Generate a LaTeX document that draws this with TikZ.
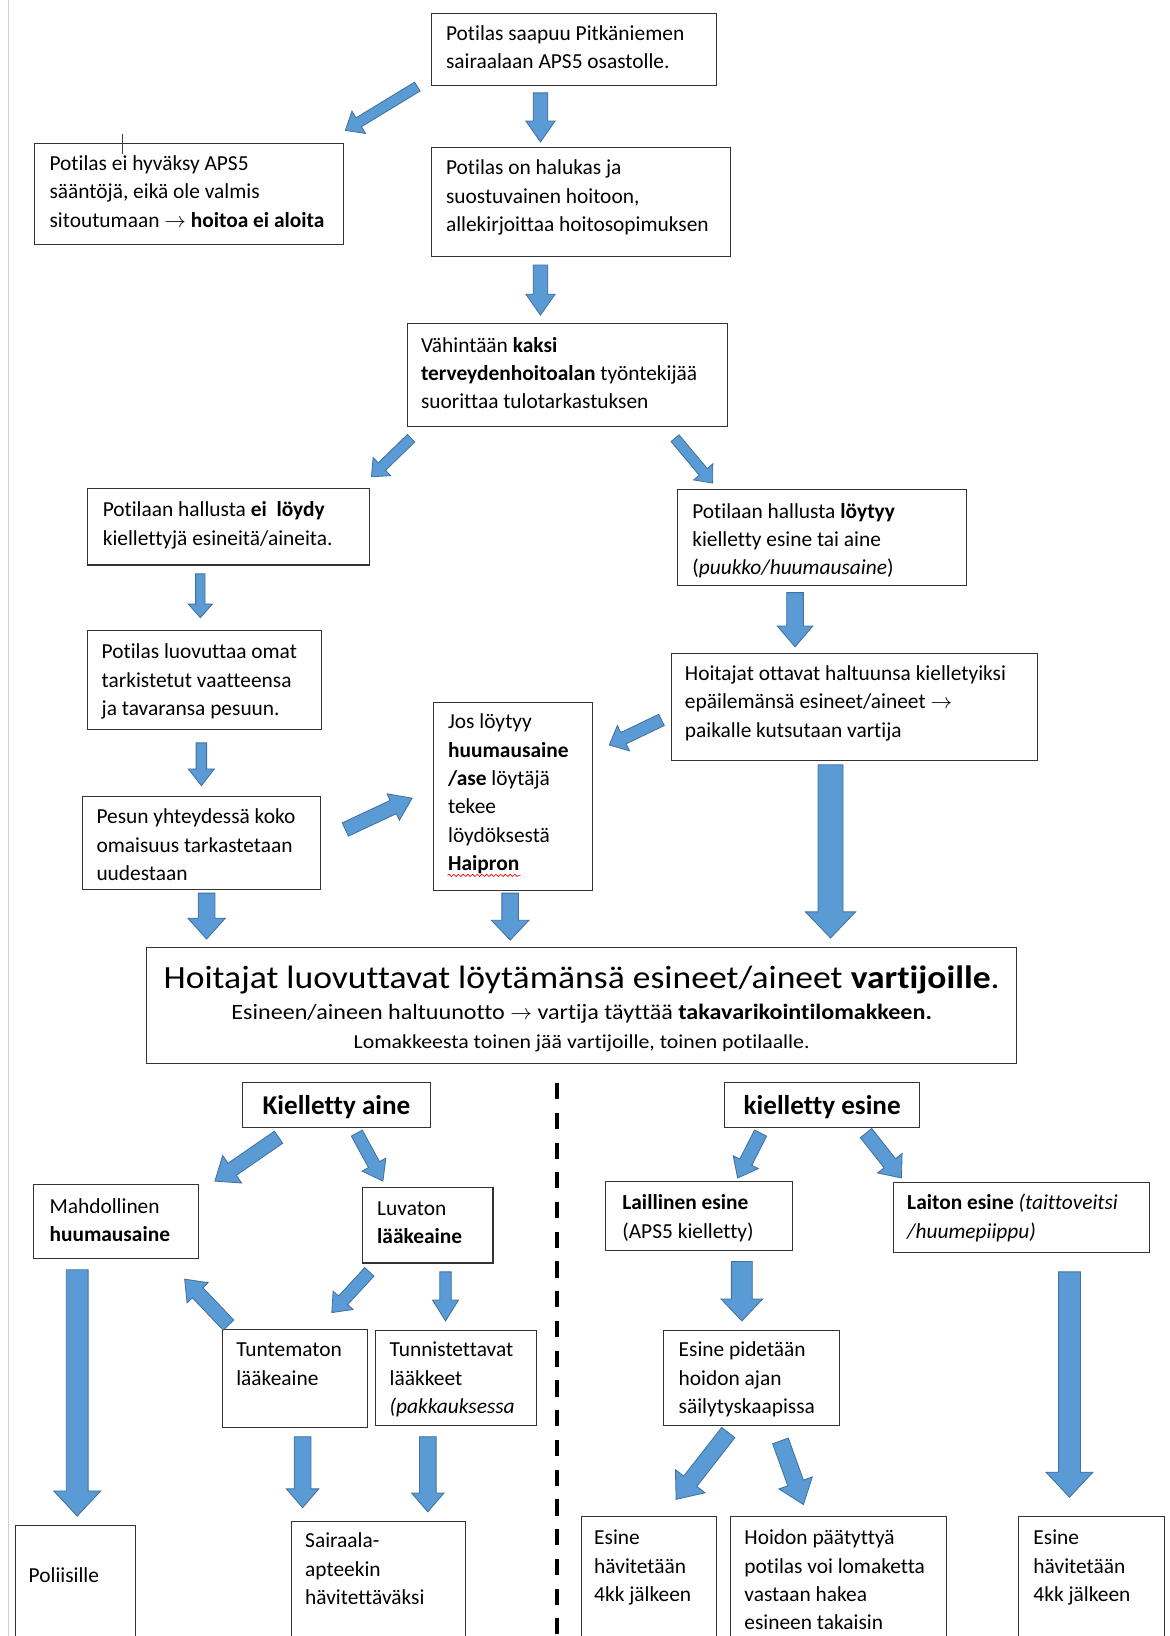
\documentclass[tikz,border=0pt]{standalone}
\usepackage{fontspec}
\setmainfont{Carlito}[Ligatures=NoCommon]
\newfontfamily\kfont{Carlito}[Ligatures=NoCommon, FakeStretch=1.1]
\usetikzlibrary{calc,decorations.pathmorphing}
\definecolor{arrfill}{HTML}{5B9BD5}
\definecolor{arrline}{HTML}{41719C}
\newcommand\ar{\ensuremath{\rightarrow}}
\tikzset{
  box/.style={draw=black!80, line width=1pt, fill=white, inner sep=0pt, anchor=north west,
              font=\fontsize{20.5}{27.2}\selectfont},
  barr/.style={fill=arrfill, draw=arrline, line width=0.8pt, line join=miter},
}
% left-aligned box: name, x1, y1, x2, y2, first-baseline offset, left pad, text
\newcommand\bx[8]{%
  \node[box] (#1) at (#2,#3) {\vbox to \dimexpr#5pt-#3pt\relax{\vskip\dimexpr#6pt-19.04pt\relax
    \hbox to \dimexpr#4pt-#2pt\relax{\hspace{#7pt}\begin{tabular}{@{}l@{}}#8\end{tabular}\hfil}\vfil}};}
% centred box
\newcommand\bxc[7]{%
  \node[box] (#1) at (#2,#3) {\vbox to \dimexpr#5pt-#3pt\relax{\vskip\dimexpr#6pt-19.04pt\relax
    \hbox to \dimexpr#4pt-#2pt\relax{\hfil\begin{tabular}{@{}c@{}}#7\end{tabular}\hfil}\vfil}};}
% block arrow: start, end, shaft width, head width, head length
\newcommand\barrow[5]{%
  \path[barr] let \p1=(#1), \p2=(#2), \n1={atan2(\y2-\y1,\x2-\x1)}, \n2={veclen(\x2-\x1,\y2-\y1)} in
    (\p1) -- ++({\n1+90}:{#3pt/2}) -- ++(\n1:{\n2*1pt-#5pt}) -- ++({\n1+90}:{#4pt/2-#3pt/2})
    -- (\p2) -- ++({\n1+180+atan2(#4,2*#5)}:{veclen(#4/2,#5)*1pt})
    -- ++({\n1+90}:{#4pt/2-#3pt/2}) -- ++({\n1+180}:{\n2*1pt-#5pt}) -- cycle;}
\begin{document}
\begin{tikzpicture}[x=1pt,y=-1pt]
\useasboundingbox (0,0) rectangle (1121,1568);
\clip (0,0) rectangle (1121,1568);
\fill[white] (0,0) rectangle (1121,1568);
% page edge
\coordinate (pe1) at (8,0); \coordinate (pe2) at (8,1568);
\draw[black!18, line width=1pt] (pe1) -- (pe2);

% boxes
\bx{A}{413}{12}{686}{81}{26}{14}{Potilas saapuu Pitkäniemen\\sairaalaan APS5 osastolle.}
\bx{B}{33}{137}{329}{234}{26}{14}{Potilas ei hyväksy APS5\\sääntöjä, eikä ole valmis\\sitoutumaan \ar{} \textbf{hoitoa ei aloita}}
\bx{C}{413}{141}{700}{245}{26}{14}{Potilas on halukas ja\\suostuvainen hoitoon,\\allekirjoittaa hoitosopimuksen}
\bx{D}{390}{310}{697}{408}{27}{13}{Vähintään \textbf{kaksi}\\\textbf{terveydenhoitoalan} työntekijää\\suorittaa tulotarkastuksen}
\bx{E}{83}{468}{354}{541}{27}{15}{Potilaan hallusta \textbf{ei\ \ löydy}\\kiellettyjä esineitä/aineita.}
\bx{F}{649}{469}{926}{561}{27}{14}{Potilaan hallusta \textbf{löytyy}\\kielletty esine tai aine\\(\textit{puukko/huumausaine})}
\bx{G}{83}{604}{308}{699}{27}{14}{Potilas luovuttaa omat\\tarkistetut vaatteensa\\ja tavaransa pesuun.}
\bx{H}{643}{626}{994}{728}{25.5}{13}{Hoitajat ottavat haltuunsa kielletyiksi\\epäilemänsä esineet/aineet \ar\\paikalle kutsutaan vartija}
\bx{I}{415}{673}{567}{853}{25}{14}{Jos löytyy\\\textbf{huumausaine}\\\textbf{/ase} löytäjä\\tekee\\löydöksestä\\\textbf{Haipron}}
\bx{J}{79}{763}{307}{852}{26}{13}{Pesun yhteydessä koko\\omaisuus tarkastetaan\\uudestaan}
\node[box] (K) at (140,908) {\vbox to 111pt{\offinterlineskip
  \hbox to 834pt{\hfil\rule[-9pt]{0pt}{47.6pt}\kfont\fontsize{31}{36}\selectfont Hoitajat luovuttavat löytämänsä esineet/aineet \textbf{vartijoille}.\hfil}
  \hbox to 834pt{\hfil\rule[-6pt]{0pt}{27.4pt}\kfont\fontsize{21}{25}\selectfont Esineen/aineen haltuunotto \ar{} vartija täyttää \textbf{takavarikointilomakkeen.}\hfil}
  \hbox to 834pt{\hfil\rule{0pt}{21pt}\kfont\fontsize{19}{22}\selectfont Lomakkeesta toinen jää vartijoille, toinen potilaalle.\hfil}
  \vfil}};
\bxc{L}{232}{1037}{412}{1080}{31}{\fontsize{26}{27.2}\selectfont\bfseries Kielletty aine}
\bxc{M}{694}{1037}{881}{1080}{31}{\fontsize{26}{27.2}\selectfont\bfseries kielletty esine}
\bx{N}{32}{1135}{190}{1206}{27.5}{15}{Mahdollinen\\\textbf{huumausaine}}
\bx{O}{347}{1138}{472}{1210}{26}{14}{Luvaton\\\textbf{lääkeaine}}
\bx{P}{580}{1132}{759}{1198}{27}{16}{\textbf{Laillinen esine}\\(APS5 kielletty)}
\bx{Q}{856}{1133}{1101}{1200}{26}{13}{\textbf{Laiton esine} \textit{(taittoveitsi}\\\textit{/huumepiippu)}}
\bx{S}{213}{1274}{352}{1368}{26}{13}{Tuntematon\\lääkeaine}
\bx{T}{359}{1275}{514}{1366}{25}{14}{Tunnistettavat\\lääkkeet\\\textit{(pakkauksessa}}
\bx{V}{635}{1275}{804}{1366}{25}{15}{Esine pidetään\\hoidon ajan\\säilytyskaapissa}
\bx{R}{14}{1462}{129}{1590}{54}{13}{Poliisille}
\bx{U}{279}{1458}{446}{1590}{25}{13}{Sairaala-\\apteekin\\hävitettäväksi}
\bx{W}{557}{1453}{686}{1590}{27}{12}{Esine\\hävitetään\\4kk jälkeen}
\bx{X}{700}{1453}{907}{1590}{27}{13}{Hoidon päätyttyä\\potilas voi lomaketta\\vastaan hakea\\esineen takaisin}
\bx{Y}{976}{1453}{1116}{1590}{27}{14}{Esine\\hävitetään\\4kk jälkeen}

% spell-check underline and cursor
\coordinate (hw1) at (429,839); \coordinate (hw2) at (499,839);
\draw[red!85!black, line width=0.6pt, decorate, decoration={snake, amplitude=1.1pt, segment length=4.5pt}] (hw1) -- (hw2);
\coordinate (cu1) at (117,128); \coordinate (cu2) at (117,148);
\draw[black!75, line width=0.8pt] (cu1) -- (cu2);

% dashed divider
\coordinate (dv1) at (534,1038); \coordinate (dv2) at (534,1570);
\draw[line width=3.5pt, dash pattern=on 15.5pt off 13pt] (dv1) -- (dv2);

% arrow end points
\coordinate (a1s) at (400,83);   \coordinate (a1e) at (331,125);
\coordinate (a2s) at (518,89);   \coordinate (a2e) at (518,136);
\coordinate (a3s) at (518,254);  \coordinate (a3e) at (518,302);
\coordinate (a4s) at (394,420);  \coordinate (a4e) at (356,457);
\coordinate (a5s) at (647,420);  \coordinate (a5e) at (683,463);
\coordinate (a6s) at (192,550);  \coordinate (a6e) at (192,592);
\coordinate (a7s) at (762,568);  \coordinate (a7e) at (762,620);
\coordinate (a8s) at (634,690);  \coordinate (a8e) at (584,714);
\coordinate (a9s) at (193,712);  \coordinate (a9e) at (193,753);
\coordinate (a10s) at (331,795); \coordinate (a10e) at (395,765);
\coordinate (a11s) at (198,856); \coordinate (a11e) at (198,900);
\coordinate (a12s) at (489,856); \coordinate (a12e) at (489,901);
\coordinate (a13s) at (796,733); \coordinate (a13e) at (796,899);
\coordinate (a14s) at (267,1090); \coordinate (a14e) at (206,1132);
\coordinate (a15s) at (342,1086); \coordinate (a15e) at (367,1132);
\coordinate (a16s) at (729,1086); \coordinate (a16e) at (707,1129);
\coordinate (a17s) at (830,1086); \coordinate (a17e) at (864,1129);
\coordinate (a18s) at (74,1217);  \coordinate (a18e) at (74,1453);
\coordinate (a19s) at (354,1219); \coordinate (a19e) at (318,1258);
\coordinate (a20s) at (427,1219); \coordinate (a20e) at (427,1266);
\coordinate (a21s) at (219,1270); \coordinate (a21e) at (177,1226);
\coordinate (a22s) at (290,1377); \coordinate (a22e) at (290,1445);
\coordinate (a23s) at (410,1377); \coordinate (a23e) at (410,1449);
\coordinate (a24s) at (711,1209); \coordinate (a24e) at (711,1266);
\coordinate (a25s) at (698,1373); \coordinate (a25e) at (648,1437);
\coordinate (a26s) at (748,1381); \coordinate (a26e) at (770,1442);
\coordinate (a27s) at (1025,1219); \coordinate (a27e) at (1025,1435);

\barrow{a1s}{a1e}{10}{25}{15}
\barrow{a2s}{a2e}{14}{28}{20}
\barrow{a3s}{a3e}{14}{28}{20}
\barrow{a4s}{a4e}{10}{24}{14}
\barrow{a5s}{a5e}{10}{24}{14}
\barrow{a6s}{a6e}{9}{23}{13}
\barrow{a7s}{a7e}{16}{34}{20}
\barrow{a8s}{a8e}{12}{27}{15}
\barrow{a9s}{a9e}{10}{25}{16}
\barrow{a10s}{a10e}{14}{28}{20}
\barrow{a11s}{a11e}{16}{36}{20}
\barrow{a12s}{a12e}{16}{36}{19}
\barrow{a13s}{a13e}{24}{48}{25}
\barrow{a14s}{a14e}{14}{32}{20}
\barrow{a15s}{a15e}{12}{26}{18}
\barrow{a16s}{a16e}{13}{27}{17}
\barrow{a17s}{a17e}{14}{30}{18}
\barrow{a18s}{a18e}{21}{45}{24}
\barrow{a19s}{a19e}{12}{26}{16}
\barrow{a20s}{a20e}{11}{25}{20}
\barrow{a21s}{a21e}{14}{28}{18}
\barrow{a22s}{a22e}{16}{31}{18}
\barrow{a23s}{a23e}{16}{31}{18}
\barrow{a24s}{a24e}{20}{40}{21}
\barrow{a25s}{a25e}{16}{36}{22}
\barrow{a26s}{a26e}{16}{34}{22}
\barrow{a27s}{a27e}{21}{45}{24}
\end{tikzpicture}
\end{document}
